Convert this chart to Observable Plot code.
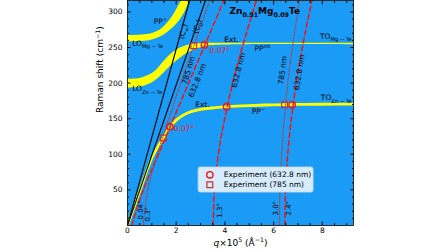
<!DOCTYPE html>
<html><head><meta charset="utf-8">
<script src="https://cdn.jsdelivr.net/npm/d3@7"></script>
<script src="https://cdn.jsdelivr.net/npm/@observablehq/plot@0.6"></script>
<style>
body{margin:0;background:#fff;}
#chart{width:448px;height:252px;}
</style></head><body><div id="chart"></div>
<script>
// ---- data (q in 10^-5 Å^-1, ω in cm^-1) ----
const qTicks = [0, 2, 4, 6, 8];
const qMinor = [0.5, 1, 1.5, 2.5, 3, 3.5, 4.5, 5, 5.5, 6.5, 7, 7.5, 8.5, 9];
const wTicks = [50, 100, 150, 200, 250, 300];
const wMinor = [10, 20, 30, 40, 60, 70, 80, 90, 110, 120, 130, 140, 160, 170, 180, 190, 210, 220, 230, 240, 260, 270, 280, 290, 310];

const lightInf = [[0, 0], [2.55, 316]];
const light0 = [[0, 0], [3.2, 316]];

const ppPlusTop = [[0, 267], [0.5, 267.3], [0.9, 268.5], [1.2, 272], [1.45, 277.5], [1.7, 286.5], [1.9, 296], [2.05, 305], [2.22, 316]];
const ppPlusBot = [[0, 258], [0.5, 258.3], [0.9, 259.5], [1.2, 262.5], [1.5, 267.5], [1.85, 277], [2.12, 287], [2.35, 299], [2.55, 316]];

const ppIntTop = [[0, 205.5], [0.5, 206.5], [0.94, 212], [1.22, 219], [1.49, 230], [1.9, 243.5], [2.3, 251], [2.7, 254.5], [3.2, 255.5], [4, 255.8], [9.28, 256]];
const ppIntBot = [[0, 193], [0.5, 194], [0.94, 199], [1.22, 205.5], [1.49, 214], [1.9, 227.5], [2.3, 238.5], [2.7, 246], [3.2, 251.5], [4, 253.5], [9.28, 254]];

const ppMinus = [[0, 0], [0.5, 48], [0.95, 91], [1.2, 108], [1.47, 123], [1.74, 138], [2.0, 148], [2.4, 157], [3.0, 163], [3.6, 165.5], [4.1, 167], [5, 168.5], [6, 169.5], [7, 170], [8, 170.3], [9.28, 170.5]];

const line633_007 = [[0.17, 0], [0.65, 50], [1.27, 100], [1.89, 150], [2.51, 200], [3.13, 250], [3.96, 316]];
const line633_13 = [[3.52, 0], [3.57, 50], [3.73, 100], [3.99, 150], [4.32, 200], [4.71, 250], [5.29, 316]];
const line633_24 = [[6.46, 0], [6.49, 50], [6.58, 100], [6.73, 150], [6.93, 200], [7.18, 250], [7.57, 316]];
const line785_03 = [[0.64, 0], [0.83, 50], [1.23, 100], [1.70, 150], [2.19, 200], [2.70, 250], [3.38, 316]];
const line785_30 = [[6.24, 0], [6.26, 50], [6.33, 100], [6.44, 150], [6.58, 200], [6.77, 250], [7.06, 316]];

const exp633 = [[1.74, 138.8], [3.16, 253.6], [4.07, 166.9], [6.76, 169.5]];
const exp785 = [[1.47, 123], [2.72, 252.6], [6.45, 169.5]];

const legendItems = ["Experiment (632.8 nm)", "Experiment (785 nm)"];

// ---- helpers ----
const X = d => d[0], Y = d => d[1];
const band = (top, bot) => top.map((t, i) => ({x1: bot[i][0], y1: bot[i][1], x2: t[0], y2: t[1]}));
const blue = "#1a9bf6";
const red = "#f41414";
const dred = "#c8302c";
const font = "DejaVu Sans";

const lbl = (text, q, w, o = {}) => Plot.text([{text, q, w}], {x: "q", y: "w", text: "text", fontSize: 7.5, fill: "#000", ...o});

const plot = Plot.plot({
  width: 448, height: 252,
  marginLeft: 127, marginRight: 95, marginTop: 0, marginBottom: 27,
  x: {domain: [0, 9.28]},
  y: {domain: [0, 316]},
  style: {fontFamily: font, fontSize: "7.5px", background: "white", color: "#000"},
  marks: [
    Plot.frame({fill: blue}),
    // polariton bands
    Plot.area(band(ppPlusTop, ppPlusBot), {x1: "x1", y1: "y1", x2: "x2", y2: "y2", fill: "#ffff00", curve: "catmull-rom", clip: true}),
    Plot.area(band(ppIntTop, ppIntBot), {x1: "x1", y1: "y1", x2: "x2", y2: "y2", fill: "#ffff00", curve: "catmull-rom", clip: true}),
    Plot.line(ppMinus, {x: X, y: Y, stroke: "#ffff00", strokeWidth: 2.8, curve: "catmull-rom", clip: true}),
    // light lines
    Plot.line(lightInf, {x: X, y: Y, stroke: "#000", strokeWidth: 1.1, clip: true}),
    Plot.line(light0, {x: X, y: Y, stroke: "#000", strokeWidth: 1.1, clip: true}),
    // scattering lines
    ...[line633_007, line633_13, line633_24].map(l => Plot.line(l, {x: X, y: Y, stroke: red, strokeWidth: 1.5, strokeDasharray: "5,3", curve: "catmull-rom", clip: true})),
    ...[line785_03, line785_30].map(l => Plot.line(l, {x: X, y: Y, stroke: dred, strokeWidth: 1, strokeDasharray: "1.2,1.6", curve: "catmull-rom", clip: true})),
    // experiment markers
    Plot.dot(exp785, {x: X, y: Y, symbol: "square", r: 3.3, stroke: dred, strokeWidth: 1.2, fill: "none"}),
    Plot.dot(exp633, {x: X, y: Y, r: 3.2, stroke: red, strokeWidth: 1.4, fill: "none"}),
    // text annotations
    lbl("PP^{+}", 1.35, 286),
    lbl("LO_{Mg − Te}", 0.19, 255.6, {textAnchor: "start"}),
    lbl("LO_{Zn − Te}", 0.19, 191.7, {textAnchor: "start"}),
    lbl("(C_{∞})", 2.30, 272.5, {rotate: -75}),
    lbl("(C_{0})", 2.87, 279.5, {rotate: -71}),
    lbl("785 nm", 2.51, 218, {rotate: -73}),
    lbl("632.8 nm", 2.87, 203.6, {rotate: -68}),
    lbl("632.8 nm", 4.56, 218, {rotate: -76}),
    lbl("785 nm", 6.37, 218, {rotate: -83}),
    lbl("632.8 nm", 7.06, 215, {rotate: -81}),
    lbl("Ext.", 4.27, 260.5),
    lbl("Ext.", 3.08, 170.5),
    lbl("PP^{int}", 5.54, 248),
    lbl("PP^{−}", 5.38, 159.4),
    lbl("TO_{Mg − Te}", 9.2, 265.5, {textAnchor: "end"}),
    lbl("TO_{Zn − Te}", 9.2, 179, {textAnchor: "end"}),
    lbl("0.07°", 1.9, 136.5, {textAnchor: "start", fill: red}),
    lbl("0.07°", 3.37, 245, {textAnchor: "start", fill: red}),
    lbl("0.04°", 0.53, 8.4, {textAnchor: "start", rotate: -90, fontSize: 7}),
    lbl("0.3°", 0.82, 5.6, {textAnchor: "start", rotate: -90, fontSize: 7}),
    lbl("1.3°", 3.78, 11, {textAnchor: "start", rotate: -90, fontSize: 7}),
    lbl("3.0°", 6.08, 14, {textAnchor: "start", rotate: -90, fontSize: 7}),
    lbl("2.4°", 6.61, 14, {textAnchor: "start", rotate: -90, fontSize: 7}),
    lbl("Zn_{0.91}Mg_{0.09}Te", 4.19, 300.6, {textAnchor: "start", fontSize: 9, fontWeight: "bold"}),
    // legend
    Plot.rect([{x1: 2.92, x2: 7.64, y1: 46.3, y2: 81.5}], {x1: "x1", x2: "x2", y1: "y1", y2: "y2", fill: "#d6ecfc", stroke: "#c8d8e4", strokeWidth: 0.8, rx: 2}),
    Plot.dot([legendItems[0]], {x: () => 3.38, y: () => 71.2, r: 3.2, stroke: red, strokeWidth: 1.4, fill: "none"}),
    Plot.dot([legendItems[1]], {x: () => 3.38, y: () => 57.2, symbol: "square", r: 3.3, stroke: dred, strokeWidth: 1.2, fill: "none"}),
    Plot.text([legendItems[0]], {x: () => 3.95, y: () => 71.2, text: d => d, textAnchor: "start", fontSize: 7.5}),
    Plot.text([legendItems[1]], {x: () => 3.95, y: () => 57.2, text: d => d, textAnchor: "start", fontSize: 7.5}),
    // axes (inward ticks on all sides)
    Plot.axisX({ticks: qTicks, anchor: "bottom", tickSize: -3.5, tickPadding: 6, label: null, fontSize: 7.5}),
    Plot.axisX({ticks: qMinor, anchor: "bottom", tickSize: -2, tickFormat: () => "", label: null}),
    Plot.axisX({ticks: qTicks, anchor: "top", tickSize: -3.5, tickFormat: () => "", label: null}),
    Plot.axisX({ticks: qMinor, anchor: "top", tickSize: -2, tickFormat: () => "", label: null}),
    Plot.axisY({ticks: wTicks, anchor: "left", tickSize: -3.5, tickPadding: 8.5, label: null, fontSize: 7.5}),
    Plot.axisY({ticks: wMinor, anchor: "left", tickSize: -2, tickFormat: () => "", label: null}),
    Plot.axisY({ticks: wTicks, anchor: "right", tickSize: -3.5, tickFormat: () => "", label: null}),
    Plot.axisY({ticks: wMinor, anchor: "right", tickSize: -2, tickFormat: () => "", label: null}),
    Plot.text(["~{q}×10^{5} (Å^{−1})"], {frameAnchor: "bottom", dy: 20, text: d => d, fontSize: 9}),
    Plot.text(["Raman shift (cm^{−1})"], {frameAnchor: "left", dx: -27, rotate: -90, text: d => d, fontSize: 9}),
    Plot.frame({stroke: "#1a1a1a", strokeWidth: 0.9})
  ]
});
document.getElementById("chart").appendChild(plot);

// rich text: _{sub}, ^{sup}, ~{italic}
const NS = "http://www.w3.org/2000/svg";
plot.querySelectorAll("text").forEach(el => {
  const s = el.textContent;
  if (!/[_^~]\{/.test(s)) return;
  const fs = parseFloat(getComputedStyle(el).fontSize) || 8;
  while (el.firstChild) el.removeChild(el.firstChild);
  const re = /([_^~])\{([^}]*)\}|([^_^~]+)/g;
  let m, cur = 0;
  while ((m = re.exec(s))) {
    const ts = document.createElementNS(NS, "tspan");
    const kind = m[3] !== undefined ? "" : m[1];
    const off = kind === "_" ? fs * 0.28 : kind === "^" ? -fs * 0.4 : 0;
    ts.setAttribute("dy", off - cur); cur = off;
    if (kind === "_" || kind === "^") ts.setAttribute("font-size", fs * 0.7);
    if (kind === "~") ts.setAttribute("font-style", "italic");
    ts.textContent = m[3] !== undefined ? m[3] : m[2];
    el.appendChild(ts);
  }
});
</script></body></html>
